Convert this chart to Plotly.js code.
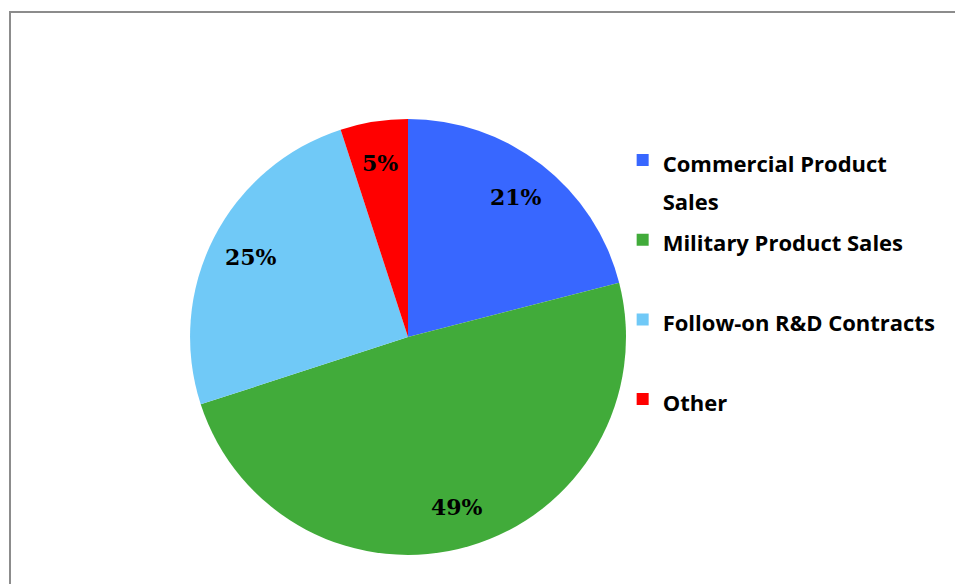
<!DOCTYPE html>
<html>
<head>
<meta charset="utf-8">
<script src="https://cdn.plot.ly/plotly-3.0.1.min.js"></script>
<style>html,body{margin:0;padding:0;background:#fff;}#chart{width:955px;height:584px;}</style>
</head>
<body>
<div id="chart"></div>
<script>
const categories = ["Commercial Product<br>Sales", "Military Product Sales", "Follow-on R&D Contracts", "Other"];
const shares = [21, 49, 25, 5];
const sliceColors = ["#3867FF", "#41AB3A", "#70C9F7", "#FF0000"];

const W = 955, H = 584;
const pieDomain = { x: [0.1990, 0.6555], y: [0.0497, 0.7962] };

const legendLabels = categories.map(function (c) {
  const lines = c.split("<br>").length;
  const pad = lines < 2 ? "<br> " : "";
  return "<span style='font-size:22px'>" + c + "</span>" + pad;
});

// percentage labels placed at the middle angle of each slice (Excel-like best fit)
const total = shares.reduce(function (a, b) { return a + b; }, 0);
const cx = (pieDomain.x[0] + pieDomain.x[1]) / 2;
const cy = (pieDomain.y[0] + pieDomain.y[1]) / 2;
const rPx = Math.min((pieDomain.x[1] - pieDomain.x[0]) * W, (pieDomain.y[1] - pieDomain.y[0]) * H) / 2;
const labelFrac = 0.81;
let cum = 0;
const annotations = shares.map(function (v) {
  const mid = (cum + v / 2) / total * 2 * Math.PI;
  cum += v;
  return {
    xref: "paper", yref: "paper",
    x: cx + labelFrac * rPx * Math.sin(mid) / W,
    y: cy + labelFrac * rPx * Math.cos(mid) / H,
    text: Math.round(v / total * 100) + "%",
    showarrow: false, xanchor: "center", yanchor: "middle",
    font: { family: "DejaVu Serif", size: 22, color: "#000000", weight: "bold" }
  };
});

const trace = {
  type: "pie",
  labels: legendLabels,
  values: shares,
  sort: false,
  direction: "clockwise",
  rotation: 0,
  marker: { colors: sliceColors, line: { width: 0 } },
  textinfo: "none",
  hoverinfo: "label+percent",
  domain: pieDomain
};

const layout = {
  width: W,
  height: H,
  margin: { l: 0, r: 0, t: 0, b: 0 },
  paper_bgcolor: "#ffffff",
  showlegend: true,
  legend: {
    x: 0.652, xanchor: "left",
    y: 0.770, yanchor: "top",
    valign: "top",
    font: { family: "Open Sans", size: 29.5, color: "#000000", weight: "bold" },
    bgcolor: "rgba(0,0,0,0)"
  },
  annotations: annotations,
  shapes: [{
    type: "rect", xref: "paper", yref: "paper",
    x0: 10 / W, x1: 1.02, y0: -0.02, y1: (H - 12) / H,
    line: { color: "#8c8c8c", width: 2 }, fillcolor: "rgba(0,0,0,0)"
  }]
};

Plotly.newPlot("chart", [trace], layout, { displayModeBar: false, staticPlot: true });
</script>
</body>
</html>
